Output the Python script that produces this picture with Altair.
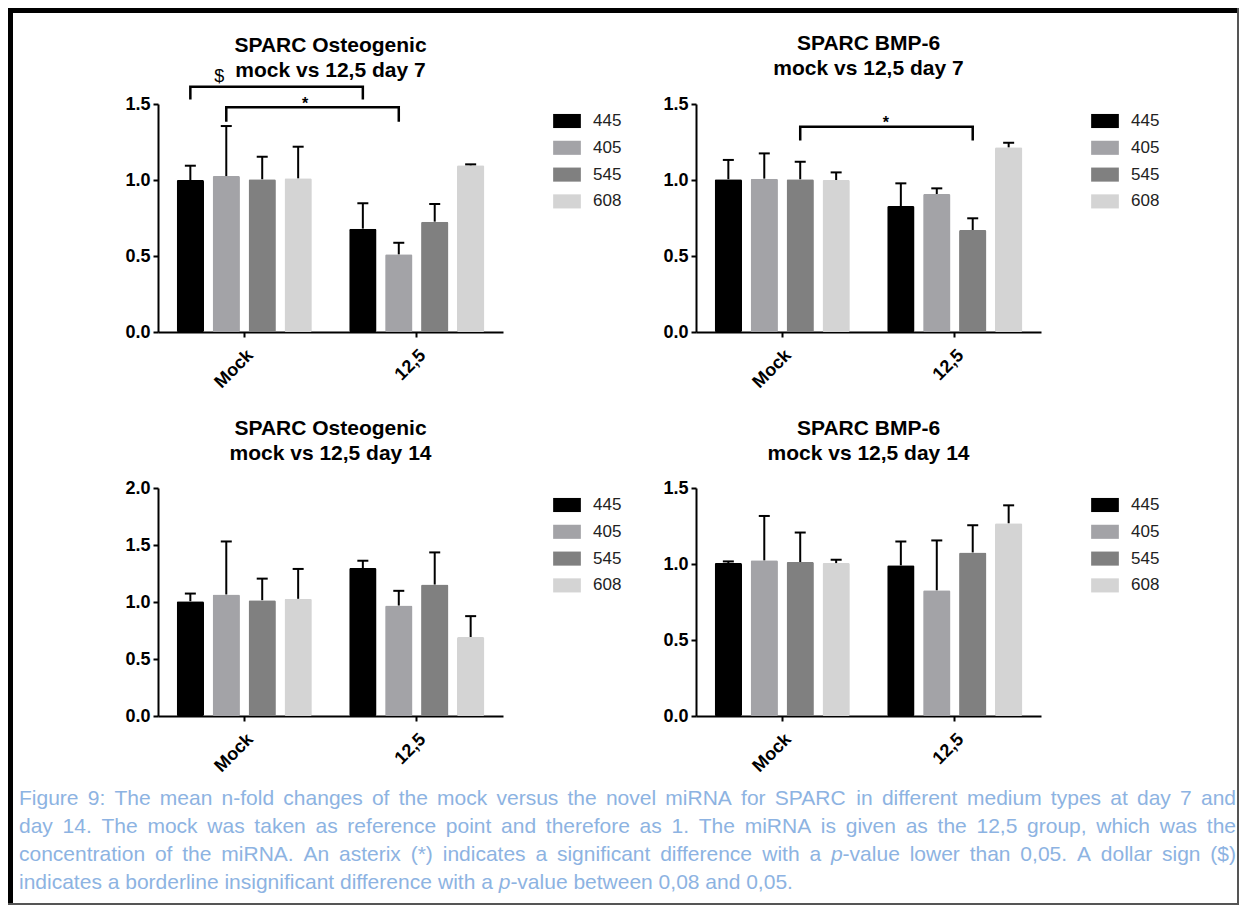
import altair as alt
import pandas as pd

# ---------------- data ----------------
groups = ["Mock", "12,5"]
series = ["445", "405", "545", "608"]
colors = ["#000000", "#a3a3a7", "#808080", "#d4d4d4"]

titles = [
    ["SPARC Osteogenic", "mock vs 12,5 day 7"],
    ["SPARC BMP-6", "mock vs 12,5 day 7"],
    ["SPARC Osteogenic", "mock vs 12,5 day 14"],
    ["SPARC BMP-6", "mock vs 12,5 day 14"],
]

# order: Mock 445,405,545,608 then 12,5 445,405,545,608
p1_mean = [1.000, 1.026, 1.005, 1.011, 0.680, 0.511, 0.726, 1.097]
p1_upper = [1.094, 1.355, 1.153, 1.219, 0.847, 0.587, 0.842, 1.103]
p2_mean = [1.005, 1.009, 1.005, 1.000, 0.829, 0.908, 0.671, 1.215]
p2_upper = [1.132, 1.175, 1.120, 1.050, 0.978, 0.945, 0.748, 1.245]
p3_mean = [1.007, 1.066, 1.016, 1.028, 1.298, 0.969, 1.153, 0.693]
p3_upper = [1.074, 1.531, 1.205, 1.290, 1.362, 1.098, 1.435, 0.876]
p4_mean = [1.006, 1.024, 1.013, 1.006, 0.991, 0.827, 1.076, 1.268]
p4_upper = [1.017, 1.316, 1.207, 1.028, 1.148, 1.155, 1.255, 1.386]

means = [p1_mean, p2_mean, p3_mean, p4_mean]
uppers = [p1_upper, p2_upper, p3_upper, p4_upper]
y_max = [1.5, 1.5, 2.0, 1.5]
y_ticks = [[0, 0.5, 1.0, 1.5], [0, 0.5, 1.0, 1.5], [0, 0.5, 1.0, 1.5, 2.0], [0, 0.5, 1.0, 1.5]]

# significance brackets: (left group, left series, right group, right series, top, leg end)
brackets = [
    [("Mock", "445", "12,5", "445", 1.614, 1.53),
     ("Mock", "405", "12,5", "405", 1.478, 1.384)],
    [("Mock", "545", "12,5", "545", 1.35, 1.26)],
    [],
    [],
]
# bracket labels: (text, anchor group, anchor series, y, dx, size, weight)
bracket_labels = [
    [("$", "Mock", "405", 1.680, -7, 18, "normal"),
     ("*", "Mock", "608", 1.50, 7, 16, "bold")],
    [("*", "12,5", "445", 1.377, -15, 16, "bold")],
    [],
    [],
]

# caption lines; an italic piece inside a word is marked by _x_
caption_lines = [
    "Figure 9: The mean n-fold changes of the mock versus the novel miRNA for SPARC in different medium types at day 7 and",
    "day 14. The mock was taken as reference point and therefore as 1. The miRNA is given as the 12,5 group, which was the",
    "concentration of the miRNA. An asterix (*) indicates a significant difference with a _p_-value lower than 0,05. A dollar sign ($)",
    "indicates a borderline insignificant difference with a _p_-value between 0,08 and 0,05.",
]
caption_justified = [True, True, True, False]

FONT = "Liberation Sans"
CAP_SIZE = 21
CAP_COLOR = "#8db3e2"
W, H = 345, 228
title_offsets = [-13, 16, 15, 15]

# Arial / Liberation Sans advance widths (1/1000 em) for caption layout
ADV = dict(zip("abcdefghijklmnopqrstuvwxyz",
               [556, 556, 500, 556, 556, 278, 556, 556, 222, 222, 500, 222, 833,
                556, 556, 556, 556, 333, 500, 278, 556, 500, 722, 500, 500, 500]))
ADV.update(dict(zip("ABCDEFGHIJKLMNOPQRSTUVWXYZ",
                    [667, 667, 722, 722, 667, 611, 778, 722, 278, 500, 667, 556, 833,
                     722, 778, 667, 778, 722, 667, 611, 722, 667, 944, 667, 667, 611])))
ADV.update({d: 556 for d in "0123456789"})
ADV.update({" ": 278, ".": 278, ",": 278, ":": 278, ";": 278, "-": 333,
            "(": 333, ")": 333, "*": 389, "$": 556})


def text_w(s):
    return sum(ADV.get(ch, 556) for ch in s) / 1000.0 * CAP_SIZE


def panel(i):
    rows = []
    for gi, g in enumerate(groups):
        for si, s in enumerate(series):
            k = gi * 4 + si
            rows.append({"group": g, "series": s, "mean": means[i][k], "upper": uppers[i][k]})
    df = pd.DataFrame(rows)

    x = alt.X("group:N", sort=groups,
              scale=alt.Scale(domain=groups, paddingInner=0, paddingOuter=0),
              axis=alt.Axis(title=None, labelAngle=-45, labelAlign="right",
                            labelBaseline="top", labelPadding=9, labelFont=FONT,
                            labelFontSize=18, labelFontWeight="bold", labelColor="black"))
    xo = alt.XOffset("series:N", sort=series,
                     scale=alt.Scale(domain=series, paddingInner=0.24, paddingOuter=0.52))

    def Y(field):
        return alt.Y(field, scale=alt.Scale(domain=[0, y_max[i]], nice=False, zero=True),
                     axis=alt.Axis(title=None, values=y_ticks[i], format=".1f",
                                   labelFont=FONT, labelFontSize=18, labelFontWeight="bold",
                                   labelColor="black", labelPadding=3))

    bars = alt.Chart(df).mark_bar(cornerRadius=1.5).encode(
        x=x, xOffset=xo, y=Y("mean:Q"),
        color=alt.Color("series:N", sort=series,
                        scale=alt.Scale(domain=series, range=colors),
                        legend=alt.Legend(title=None, orient="none", legendX=398, legendY=6,
                                          symbolType="M-1.26,-0.64H1.26V0.64H-1.26Z",
                                          symbolSize=484, symbolStrokeWidth=0,
                                          symbolOpacity=1,
                                          labelFont=FONT, labelFontSize=17,
                                          labelColor="#222222", labelOffset=15,
                                          rowPadding=7.8, padding=0)),
    )
    stems = alt.Chart(df).mark_rule(color="black", strokeWidth=2).encode(
        x=x, xOffset=xo, y=Y("mean:Q"), y2="upper:Q")
    caps = alt.Chart(df).mark_tick(color="black", thickness=2, size=11, opacity=1).encode(
        x=x, xOffset=xo, y=Y("upper:Q"))
    layers = [bars, stems, caps]

    if brackets[i]:
        brows = []
        for k, (lg, ls, rg, rs, top, leg) in enumerate(brackets[i]):
            brows += [
                {"id": k, "ord": 0, "group": lg, "series": ls, "y": leg},
                {"id": k, "ord": 1, "group": lg, "series": ls, "y": top},
                {"id": k, "ord": 2, "group": rg, "series": rs, "y": top},
                {"id": k, "ord": 3, "group": rg, "series": rs, "y": leg},
            ]
        bdf = pd.DataFrame(brows)
        layers.append(alt.Chart(bdf).mark_line(color="black", strokeWidth=2.5,
                                               strokeJoin="miter", strokeCap="butt").encode(
            x=x, xOffset=xo, y=Y("y:Q"), detail="id:N", order="ord:Q"))
        for (t, g, s, yv, dx, fs, fw) in bracket_labels[i]:
            ldf = pd.DataFrame([{"group": g, "series": s, "y": yv, "t": t}])
            layers.append(alt.Chart(ldf).mark_text(font=FONT, fontSize=fs, fontWeight=fw,
                                                   color="black", dx=dx, baseline="middle").encode(
                x=x, xOffset=xo, y=Y("y:Q"), text="t:N"))

    return alt.layer(*layers).properties(
        width=W, height=H,
        title=alt.TitleParams(text=titles[i], font=FONT, fontSize=21, fontWeight="bold",
                              color="black", lineHeight=25, anchor="middle", frame="group",
                              offset=title_offsets[i]))


# ------------- caption + frame cell (origin = page (158, 872)) -------------
OX, OY = 158, 872
X0, X1 = 19, 1236
base_y = [805, 833, 861, 889]
normal_rows, ital_rows = [], []
for li, line in enumerate(caption_lines):
    words = line.split(" ")
    pieces = []
    for w in words:
        parts = []
        if "_" in w:
            segs = w.split("_")
            for si, seg in enumerate(segs):
                if seg:
                    parts.append((seg, si % 2 == 1))
        else:
            parts.append((w, False))
        pieces.append(parts)
    widths = [sum(text_w(p) for p, _ in parts) for parts in pieces]
    if caption_justified[li]:
        gap = max(text_w(" "), (X1 - X0 - sum(widths)) / (len(pieces) - 1))
    else:
        gap = text_w(" ")
    xc = X0
    for parts, wd in zip(pieces, widths):
        xp = xc
        for seg, ital in parts:
            row = {"x": xp - OX, "y": base_y[li] - OY, "t": seg}
            (ital_rows if ital else normal_rows).append(row)
            xp += text_w(seg)
        xc += wd + gap

frame_rows = [
    {"x": 8 - OX, "x2": 1239 - OX, "y": 8 - OY, "y2": 13 - OY, "c": "black"},
    {"x": 8 - OX, "x2": 13 - OX, "y": 8 - OY, "y2": 905 - OY, "c": "black"},
    {"x": 1237 - OX, "x2": 1239 - OX, "y": 8 - OY, "y2": 905 - OY, "c": "#555555"},
    {"x": 8 - OX, "x2": 1239 - OX, "y": 903 - OY, "y2": 905 - OY, "c": "#555555"},
]

cap_text = alt.Chart(pd.DataFrame(normal_rows)).mark_text(
    font=FONT, fontSize=CAP_SIZE, color=CAP_COLOR, align="left", baseline="alphabetic").encode(
    x=alt.X("x:Q", scale=None), y=alt.Y("y:Q", scale=None), text="t:N")
cap_ital = alt.Chart(pd.DataFrame(ital_rows)).mark_text(
    font=FONT, fontSize=CAP_SIZE, fontStyle="italic", color=CAP_COLOR, align="left",
    baseline="alphabetic").encode(
    x=alt.X("x:Q", scale=None), y=alt.Y("y:Q", scale=None), text="t:N")
frame = alt.Chart(pd.DataFrame(frame_rows)).mark_rect().encode(
    x=alt.X("x:Q", scale=None), x2="x2:Q", y=alt.Y("y:Q", scale=None), y2="y2:Q",
    color=alt.Color("c:N", scale=None))
caption_cell = alt.layer(frame, cap_text, cap_ital).properties(width=W, height=10)

chart = alt.concat(
    panel(0), panel(1), panel(2), panel(3), caption_cell,
    columns=2, spacing=alt.RowColnumber(row=156, column=193), bounds="flush",
).resolve_scale(
    x="independent", y="independent", color="independent", xOffset="independent"
).resolve_legend(color="independent").properties(padding=0).configure_view(
    stroke=None
).configure_axis(
    domainColor="black", domainWidth=2, tickColor="black", tickWidth=2, tickSize=5,
    labelFont=FONT, labelFontSize=18, labelFontWeight="bold", labelColor="black",
    grid=False, labelPadding=3,
)

chart.save("out.html", embed_options={"renderer": "svg", "actions": False})
